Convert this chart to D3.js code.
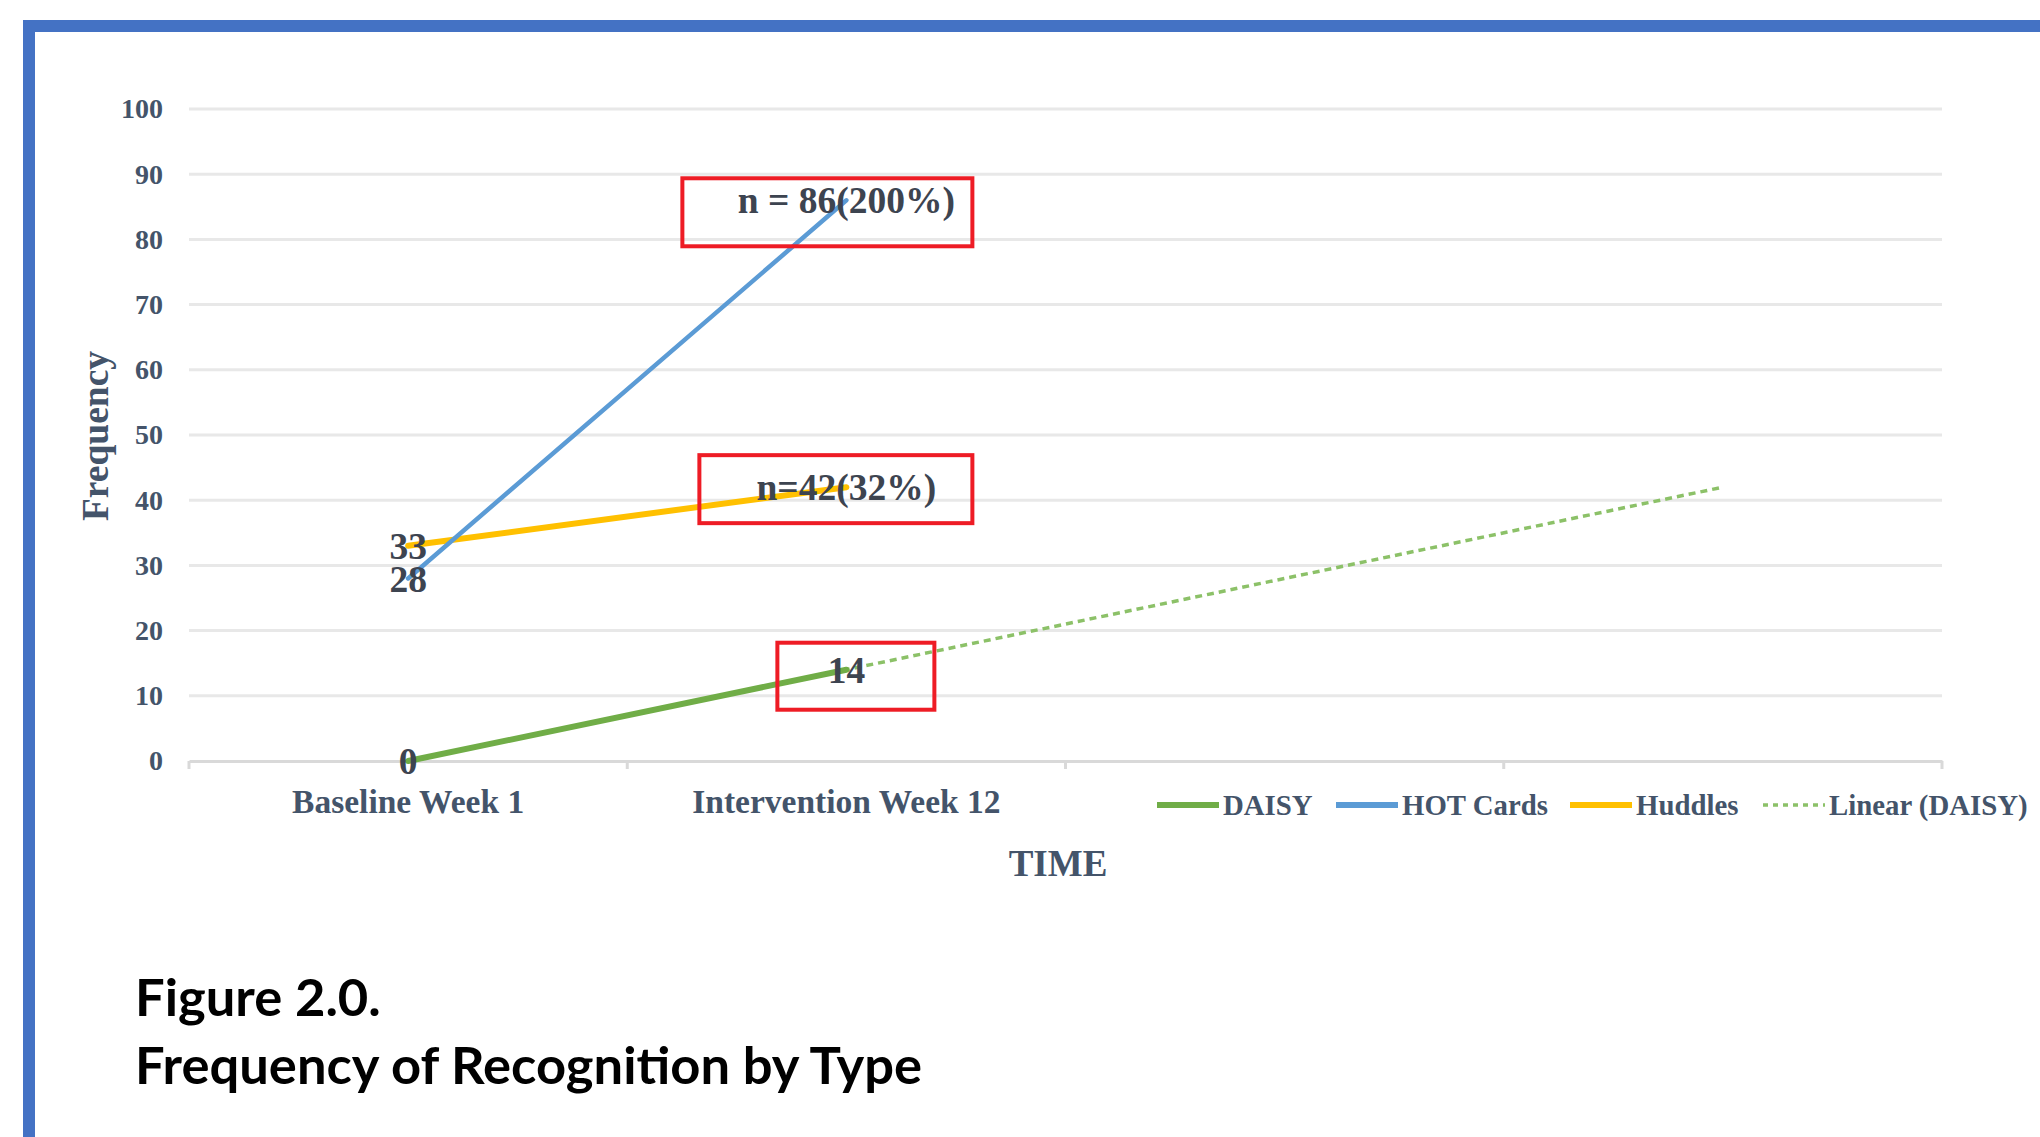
<!DOCTYPE html>
<html>
<head>
<meta charset="utf-8">
<script src="https://cdn.jsdelivr.net/npm/d3@7"></script>
<style>
  html, body { margin: 0; padding: 0; background: #fff; }
  svg { display: block; }
</style>
</head>
<body>
<script>
// ---- data ----
const categories = ["Baseline Week 1", "Intervention Week 12", "", ""];
const seriesNames = ["DAISY", "HOT Cards", "Huddles"];
const daisy = [0, 14];
const hotCards = [28, 86];
const huddles = [33, 42];
// Linear (DAISY) trendline endpoints (category index, value)
const trendIndex = [0, 3];
const trendValue = [0, 42];
const yTicks = [0, 10, 20, 30, 40, 50, 60, 70, 80, 90, 100];
const labelText = {
  "HOT Cards": ["28", "n = 86(200%)"],
  "Huddles": ["33", "n=42(32%)"],
  "DAISY": ["0", "14"]
};
const legendNames = ["DAISY", "HOT Cards", "Huddles", "Linear (DAISY)"];
const figureTitle = ["Figure 2.0.", "Frequency of Recognition by Type"];

const W = 2040, H = 1137;
const colors = { "DAISY": "#70ad47", "HOT Cards": "#5b9bd5", "Huddles": "#ffc000", "Linear (DAISY)": "#8cc168" };
const textColor = "#44546a";
const serif = "'Liberation Serif', 'Times New Roman', serif";

const svg = d3.select("body").append("svg").attr("width", W).attr("height", H);
svg.append("rect").attr("width", W).attr("height", H).attr("fill", "#fff");

// frame: top and left blue rule
svg.append("path")
  .attr("d", `M29,${H + 10} L29,26 L${W + 10},26`)
  .attr("fill", "none").attr("stroke", "#4472c4").attr("stroke-width", 12);

const plot = { left: 189, right: 1942, top: 109, bottom: 761 };

const x = d3.scaleBand().domain(d3.range(categories.length)).range([plot.left, plot.right]).padding(0);
const xc = i => x(i) + x.bandwidth() / 2;
const y = d3.scaleLinear().domain([0, 100]).range([plot.bottom, plot.top]);

// gridlines
svg.append("g").selectAll("line").data(yTicks.filter(t => t > 0)).join("line")
  .attr("x1", plot.left).attr("x2", plot.right)
  .attr("y1", d => y(d)).attr("y2", d => y(d))
  .attr("stroke", "#e8e8e8").attr("stroke-width", 3);

// y axis labels
const yAxis = svg.append("g").attr("transform", `translate(${plot.left},0)`)
  .call(d3.axisLeft(y).tickValues(yTicks).tickSize(0).tickPadding(26));
yAxis.select(".domain").remove();
yAxis.selectAll("text")
  .attr("font-family", serif).attr("font-weight", "bold").attr("font-size", 28)
  .attr("fill", textColor);

// x axis
const xAxis = svg.append("g").attr("transform", `translate(0,${plot.bottom})`)
  .call(d3.axisBottom(x).tickFormat(i => categories[i]).tickSize(0).tickPadding(28));
xAxis.select(".domain").attr("stroke", "#d9d9d9").attr("stroke-width", 3);
xAxis.selectAll("text")
  .attr("font-family", serif).attr("font-weight", "bold").attr("font-size", 33.5)
  .attr("fill", textColor);
// category boundary tick marks
svg.append("g").selectAll("line").data(d3.range(categories.length + 1)).join("line")
  .attr("x1", i => plot.left + i * x.bandwidth()).attr("x2", i => plot.left + i * x.bandwidth())
  .attr("y1", plot.bottom).attr("y2", plot.bottom + 8)
  .attr("stroke", "#d9d9d9").attr("stroke-width", 3);

// axis titles
svg.append("text").attr("x", 1058).attr("y", 876).attr("text-anchor", "middle")
  .attr("font-family", serif).attr("font-weight", "bold").attr("font-size", 37)
  .attr("fill", textColor).text("TIME");
svg.append("text").attr("transform", "translate(108,436) rotate(-90)").attr("text-anchor", "middle")
  .attr("font-family", serif).attr("font-weight", "bold").attr("font-size", 37.5)
  .attr("fill", textColor).text("Frequency");

// trendline
const line = d3.line().x(d => xc(d[0])).y(d => y(d[1]));
svg.append("path")
  .attr("d", line(trendIndex.map((t, k) => [t, trendValue[k]])))
  .attr("fill", "none").attr("stroke", colors["Linear (DAISY)"]).attr("stroke-width", 3.5)
  .attr("stroke-dasharray", "7,5");

// series lines
const seriesData = { "DAISY": daisy, "HOT Cards": hotCards, "Huddles": huddles };
const widths = { "DAISY": 6, "HOT Cards": 4.5, "Huddles": 6 };
["Huddles", "HOT Cards", "DAISY"].forEach(name => {
  svg.append("path")
    .attr("d", line(seriesData[name].map((v, i) => [i, v])))
    .attr("fill", "none").attr("stroke", colors[name]).attr("stroke-width", widths[name])
    .attr("stroke-linecap", "round");
});

// red highlight boxes around the week-12 labels
const boxes = [
  { v: hotCards[1], dx0: -164, dx1: 126, dy0: -22, dy1: 46 },
  { v: huddles[1], dx0: -147, dx1: 126, dy0: -32, dy1: 36 },
  { v: daisy[1], dx0: -69, dx1: 88, dy0: -27, dy1: 40 }
];
svg.append("g").selectAll("rect").data(boxes).join("rect")
  .attr("x", d => xc(1) + d.dx0).attr("y", d => y(d.v) + d.dy0)
  .attr("width", d => d.dx1 - d.dx0).attr("height", d => d.dy1 - d.dy0)
  .attr("fill", "none").attr("stroke", "#ee1c25").attr("stroke-width", 4);

// data labels, centred on their points
const labels = [];
seriesNames.forEach(name => seriesData[name].forEach((v, i) => labels.push({ i, v, t: labelText[name][i] })));
svg.append("g").selectAll("text").data(labels).join("text")
  .attr("x", d => xc(d.i)).attr("y", d => y(d.v)).attr("dy", "0.35em")
  .attr("text-anchor", "middle")
  .attr("font-family", serif).attr("font-weight", "bold").attr("font-size", 37.5)
  .attr("fill", "#3d4450").text(d => d.t);

// legend
const legendX = [1157, 1336, 1570, 1763];
const legendY = 805;
const lg = svg.append("g").selectAll("g").data(legendNames).join("g")
  .attr("transform", (d, k) => `translate(${legendX[k]},${legendY})`);
lg.append("line").attr("x1", 0).attr("x2", 62).attr("y1", 0).attr("y2", 0)
  .attr("stroke", d => colors[d])
  .attr("stroke-width", d => d.startsWith("Linear") ? 3.5 : 6)
  .attr("stroke-dasharray", d => d.startsWith("Linear") ? "5,5" : null);
lg.append("text").attr("x", 66).attr("dy", "0.35em")
  .attr("font-family", serif).attr("font-weight", "bold").attr("font-size", 28.8)
  .attr("fill", textColor).text(d => d);

// figure caption
svg.append("g").selectAll("text").data(figureTitle).join("text")
  .attr("x", 135).attr("y", (d, k) => 1016 + k * 68)
  .attr("font-family", "Lato, 'Open Sans', sans-serif").attr("font-weight", "bold").attr("font-size", 52.5)
  .attr("fill", "#000").text(d => d);
</script>
</body>
</html>
